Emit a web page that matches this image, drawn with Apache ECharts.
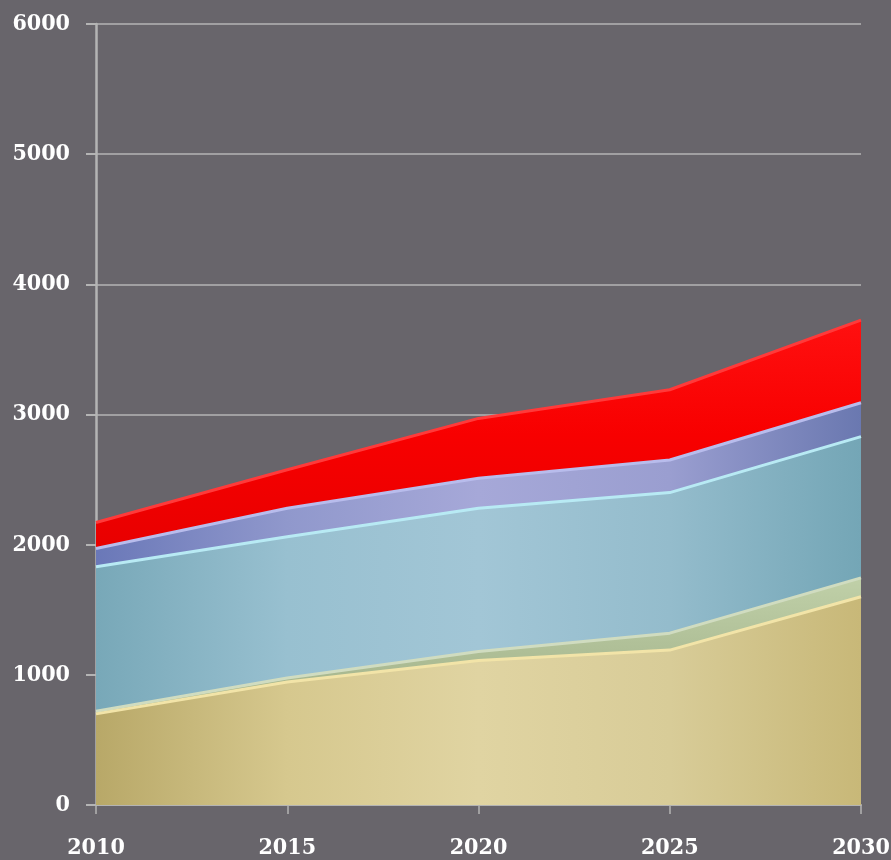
<!DOCTYPE html>
<html>
<head>
<meta charset="utf-8">
<script src="https://cdn.jsdelivr.net/npm/echarts@6/dist/echarts.min.js"></script>
<style>
html,body{margin:0;padding:0;background:#68656b;}
#c{width:891px;height:860px;}
</style>
</head>
<body>
<div id="c"></div>
<script>
var years = ['2010', '2015', '2020', '2025', '2030'];
var tanValues   = [700, 945, 1110, 1190, 1600];
var greenValues = [20, 30, 70, 130, 145];
var tealValues  = [1110, 1085, 1100, 1080, 1085];
var blueValues  = [140, 220, 230, 250, 260];
var redValues   = [200, 295, 460, 540, 635];
var yTicks = [0, 1000, 2000, 3000, 4000, 5000, 6000];

function grad(stops) {
  return new echarts.graphic.LinearGradient(0, 0, 0, 1, stops.map(function (c, i) {
    return { offset: i / (stops.length - 1), color: c };
  }));
}
function hgrad(stops) {
  return new echarts.graphic.LinearGradient(0, 0, 1, 0, stops.map(function (c, i) {
    return { offset: i / (stops.length - 1), color: c };
  }));
}

function layer(name, data, fill, edge, z) {
  return {
    name: name,
    type: 'line',
    stack: 'total',
    data: data,
    symbol: 'none',
    smooth: false,
    z: z,
    lineStyle: { color: edge, width: 3 },
    areaStyle: { color: fill, opacity: 1 }
  };
}

var labelFont = { color: '#ffffff', fontFamily: '"DejaVu Serif Condensed", "DejaVu Serif"', fontWeight: 'bold', fontSize: 23 };

var chart = echarts.init(document.getElementById('c'));
chart.setOption({
  backgroundColor: '#68656b',
  animation: false,
  grid: { left: 96, right: 30, top: 24, bottom: 55, containLabel: false, outerBoundsMode: 'none' },
  xAxis: {
    type: 'category',
    data: years,
    boundaryGap: false,
    axisLine: { lineStyle: { color: '#b4b4b4', width: 2 } },
    axisTick: { alignWithLabel: true, length: 9, lineStyle: { color: '#b4b4b4', width: 1.5 } },
    axisLabel: Object.assign({ margin: 32 }, labelFont),
    splitLine: { show: false }
  },
  yAxis: {
    type: 'value',
    min: 0,
    max: 6000,
    interval: 1000,
    axisLine: { show: true, lineStyle: { color: '#b4b4b4', width: 2.5 } },
    axisTick: { show: true, length: 10, lineStyle: { color: '#b4b4b4', width: 2 } },
    axisLabel: Object.assign({
      margin: 26,
      formatter: function (v) { return yTicks.indexOf(v) >= 0 ? String(v) : ''; }
    }, labelFont),
    splitLine: { show: true, lineStyle: { color: '#b4b4b4', width: 1.5 } }
  },
  series: [
    layer('tan', tanValues, hgrad(['#b8a868', '#d6c88e', '#e0d4a2', '#d8cc98', '#c8b878']), '#f2e4a8', 5),
    layer('green', greenValues, grad(['#c0d0a8', '#a0b088']), '#d0dcc0', 4),
    layer('teal', tealValues, hgrad(['#78a8b8', '#98c0d0', '#a2c6d6', '#94bccc', '#74a6b6']), '#b8eaf4', 3),
    layer('blue', blueValues, hgrad(['#6a78b8', '#9098cc', '#a6a8d8', '#9a9ed0', '#6a78b0']), '#b8bcec', 2),
    layer('red', redValues, grad(['#ff1010', '#f80000', '#e80000']), '#ff3a3a', 1)
  ]
});
</script>
</body>
</html>
